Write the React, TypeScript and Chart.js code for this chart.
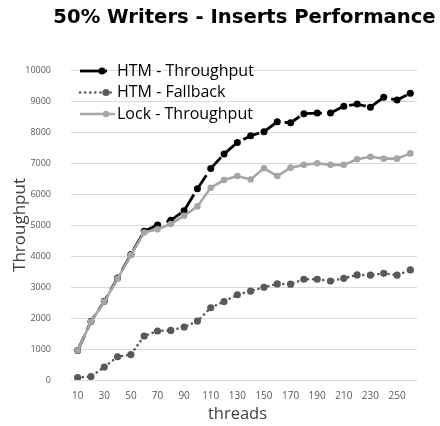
import React, { useEffect, useRef } from "react";
import { Chart, registerables } from "chart.js";

Chart.register(...registerables);

const threads = ["10","20","30","40","50","60","70","80","90","100","110","120","130","140","150","160","170","180","190","200","210","220","230","240","250","260"];
const htmThroughput = [950, 1890, 2540, 3290, 4050, 4800, 5000, 5150, 5460, 6170, 6820, 7290, 7660, 7880, 8010, 8330, 8300, 8590, 8610, 8610, 8830, 8900, 8800, 9120, 9030, 9250];
const htmFallback = [80, 110, 420, 750, 820, 1420, 1580, 1600, 1710, 1900, 2330, 2530, 2750, 2870, 2990, 3100, 3090, 3250, 3250, 3190, 3280, 3390, 3380, 3440, 3380, 3550];
const lockThroughput = [950, 1880, 2530, 3270, 4030, 4760, 4860, 5030, 5300, 5600, 6200, 6450, 6580, 6470, 6830, 6580, 6850, 6940, 6990, 6940, 6940, 7120, 7200, 7140, 7140, 7310];
const seriesNames = ["HTM - Throughput", "HTM - Fallback", "Lock - Throughput"];
const yTicks = [0, 1000, 2000, 3000, 4000, 5000, 6000, 7000, 8000, 9000, 10000];
const chartTitle = "50% Writers - Inserts Performance";
const xTitle = "threads";
const yTitle = "Throughput";

const FONT = "'Open Sans', 'DejaVu Sans', sans-serif";

const titlePlugin = {
  id: "customTitle",
  afterDraw(chart: any) {
    const ctx = chart.ctx;
    ctx.save();
    ctx.fillStyle = "#000";
    ctx.font = `bold 19.6px 'DejaVu Sans', sans-serif`;
    ctx.textAlign = "center";
    ctx.textBaseline = "alphabetic";
    ctx.fillText(chartTitle, 244.5, 23.3);
    ctx.fillStyle = "#404040";
    ctx.font = `16.5px ${FONT}`;
    ctx.textBaseline = "middle";
    ctx.fillText(xTitle, 237.5, 414);
    ctx.restore();
  },
};

const legendPlugin = {
  id: "customLegend",
  afterDraw(chart: any) {
    const ctx = chart.ctx;
    const area = chart.chartArea;
    const x0 = area.left + 9;
    const y0 = area.top + 1;
    const rowH = 21.5;
    const cfg = [
      { end: 27, marker: 22 },
      { end: 35, marker: 26 },
      { end: 35, marker: 26 },
    ];
    chart.data.datasets.forEach((ds: any, i: number) => {
      const y = y0 + i * rowH;
      ctx.save();
      ctx.strokeStyle = ds.borderColor;
      ctx.lineWidth = ds.borderWidth;
      ctx.setLineDash(i === 0 ? [] : ds.borderDash || []);
      ctx.lineCap = ds.borderCapStyle || "butt";
      ctx.beginPath();
      ctx.moveTo(x0, y);
      ctx.lineTo(x0 + cfg[i].end, y);
      ctx.stroke();
      ctx.setLineDash([]);
      ctx.fillStyle = ds.pointBackgroundColor;
      ctx.beginPath();
      ctx.arc(x0 + cfg[i].marker, y, ds.pointRadius, 0, Math.PI * 2);
      ctx.fill();
      ctx.fillStyle = "#000";
      ctx.font = `16px ${FONT}`;
      ctx.textBaseline = "middle";
      ctx.textAlign = "left";
      ctx.fillText(ds.label, x0 + 37, y);
      ctx.restore();
    });
  },
};

export default function App() {
  const canvasRef = useRef<HTMLCanvasElement>(null);

  useEffect(() => {
    document.body.style.margin = "0";
    const canvas = canvasRef.current;
    if (!canvas) return;
    const chart = new Chart(canvas, {
      type: "line",
      data: {
        labels: threads,
        datasets: [
          {
            label: seriesNames[0],
            data: htmThroughput,
            borderColor: "#000000",
            backgroundColor: "#000000",
            pointBackgroundColor: "#000000",
            pointBorderColor: "#000000",
            borderWidth: 2.8,
            borderDash: [17, 6],
            pointRadius: 3.5,
            pointBorderWidth: 0,
            tension: 0,
            order: 1,
          },
          {
            label: seriesNames[1],
            data: htmFallback,
            borderColor: "#595959",
            backgroundColor: "#595959",
            pointBackgroundColor: "#595959",
            pointBorderColor: "#595959",
            borderWidth: 2.6,
            borderDash: [0.1, 5],
            borderCapStyle: "round",
            pointRadius: 3.6,
            pointBorderWidth: 0,
            tension: 0,
            order: 2,
          },
          {
            label: seriesNames[2],
            data: lockThroughput,
            borderColor: "#a6a6a6",
            backgroundColor: "#a6a6a6",
            pointBackgroundColor: "#a6a6a6",
            pointBorderColor: "#a6a6a6",
            borderWidth: 2.6,
            pointRadius: 3.3,
            pointBorderWidth: 0,
            tension: 0,
            order: 0,
          },
        ] as any,
      },
      options: {
        responsive: false,
        animation: false,
        layout: { padding: { left: 0, right: 23, top: 70, bottom: 0 } },
        plugins: {
          legend: { display: false },
          tooltip: { enabled: false },
          title: { display: false },
        },
        scales: {
          x: {
            type: "category",
            offset: true,
            grid: { display: false, drawTicks: false },
            border: { display: false },
            ticks: {
              autoSkip: false,
              maxRotation: 0,
              padding: 10,
              color: "#595959",
              font: { family: FONT, size: 10 },
              callback: function (_v: any, i: number) {
                return i % 2 === 0 ? threads[i] : "";
              },
            },
            title: { display: false },
            afterFit: (s: any) => {
              s.height = 46;
            },
          },
          y: {
            min: 0,
            max: 10000,
            afterBuildTicks: (s: any) => {
              s.ticks = yTicks.map((v) => ({ value: v }));
            },
            grid: { color: "#d9d9d9", lineWidth: 1, drawTicks: false },
            border: { display: false },
            ticks: {
              padding: 20,
              color: "#595959",
              font: { family: FONT, size: 9 },
              callback: (v: any) => String(v),
            },
            title: {
              display: true,
              text: yTitle,
              color: "#404040",
              font: { family: FONT, size: 17 },
              padding: { top: 10, bottom: 2 },
            },
            afterFit: (s: any) => {
              s.width = 71;
            },
          },
        },
      },
      plugins: [legendPlugin, titlePlugin],
    });
    return () => chart.destroy();
  }, []);

  return (
    <div style={{ width: 440, height: 426 }}>
      <canvas ref={canvasRef} width={440} height={426} />
    </div>
  );
}
